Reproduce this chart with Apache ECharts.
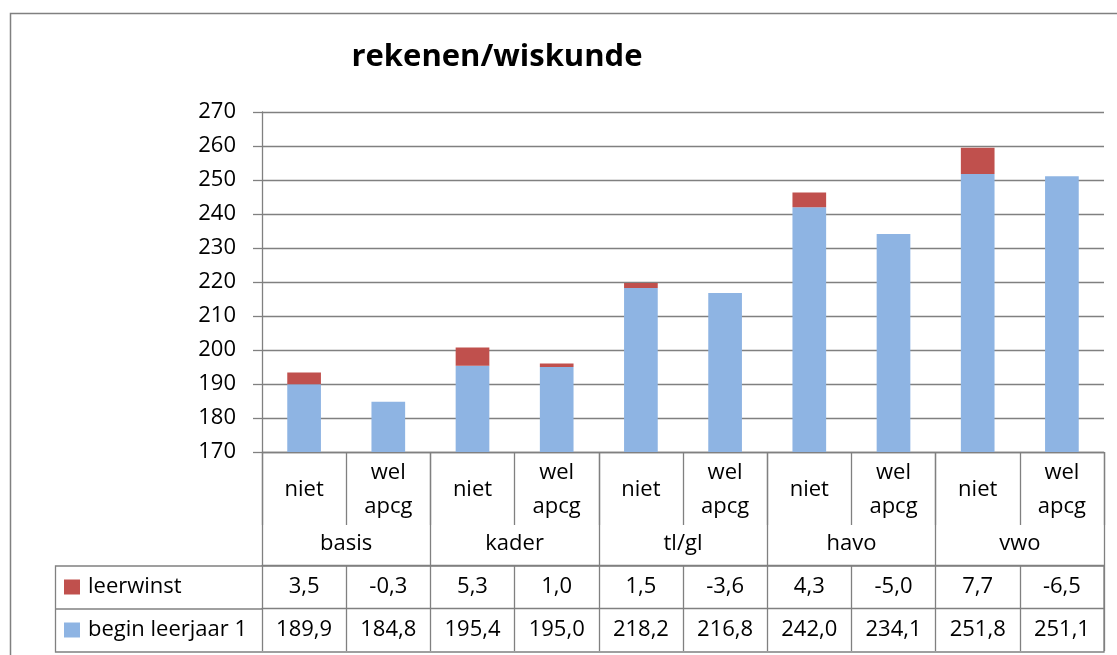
<!DOCTYPE html>
<html>
<head>
<meta charset="utf-8">
<script src="https://cdn.jsdelivr.net/npm/echarts@6/dist/echarts.min.js"></script>
<style>
  html, body { margin: 0; padding: 0; background: #fff; }
  #chart { width: 1117px; height: 655px; }
</style>
</head>
<body>
<div id="chart"></div>
<script>
// data
const categories = ['niet', 'wel\napcg', 'niet', 'wel\napcg', 'niet', 'wel\napcg', 'niet', 'wel\napcg', 'niet', 'wel\napcg']
const groups = ['basis', 'kader', 'tl/gl', 'havo', 'vwo']
const beginLeerjaar = [189.9, 184.8, 195.4, 195.0, 218.2, 216.8, 242.0, 234.1, 251.8, 251.1]
const leerwinst = [3.5, -0.3, 5.3, 1.0, 1.5, -3.6, 4.3, -5.0, 7.7, -6.5]
const yMin = 170
const yMax = 270
const yStep = 10

const fmt = (v) => v.toFixed(1).replace('.', ',')

const FONT = 'Open Sans'
const FS = 22
const GRAY = '#808080'

const chart = echarts.init(document.getElementById('chart'))

const legendStyle = (name, top) => ({
  left: 64,
  top: top,
  itemWidth: 16,
  itemHeight: 15,
  itemGap: 0,
  padding: 0,
  icon: 'rect',
  data: [name],
  textStyle: { fontFamily: FONT, fontSize: FS, color: '#000', padding: [0, 0, 0, 3] }
})

const option = {
  animation: false,
  title: {
    text: 'rekenen/wiskunde',
    left: 492,
    top: 37,
    textAlign: 'center',
    textStyle: { fontFamily: FONT, fontSize: 31, fontWeight: 'bold', color: '#000' }
  },
  legend: [legendStyle('leerwinst', 576), legendStyle('begin leerjaar 1', 619)],
  grid: { left: 262, right: 13, top: 112, bottom: 203 },
  yAxis: {
    type: 'value',
    min: yMin,
    max: yMax,
    interval: yStep,
    axisLine: { show: true, lineStyle: { color: GRAY, width: 1.3 } },
    axisTick: { show: true, length: 9, lineStyle: { color: GRAY, width: 1.3 } },
    splitLine: { show: true, lineStyle: { color: GRAY, width: 1.3 } },
    axisLabel: { margin: 26, fontFamily: FONT, fontSize: FS, color: '#000' }
  },
  xAxis: [
    {
      type: 'category',
      data: categories,
      axisLine: { show: true, lineStyle: { color: GRAY, width: 1.3 } },
      axisTick: { show: true, length: 73, lineStyle: { color: GRAY, width: 1.3 } },
      axisLabel: {
        interval: 0, margin: 38, verticalAlign: 'middle', lineHeight: 34,
        fontFamily: FONT, fontSize: FS, color: '#000'
      }
    },
    {
      type: 'category',
      data: groups,
      position: 'bottom',
      axisLine: { show: false },
      axisTick: { show: true, length: 113, lineStyle: { color: GRAY, width: 1.3 } },
      axisLabel: {
        interval: 0, margin: 92, verticalAlign: 'middle',
        fontFamily: FONT, fontSize: FS, color: '#000'
      }
    },
    {
      type: 'category',
      data: leerwinst.map(fmt),
      position: 'bottom',
      offset: 113,
      axisLine: { show: true, lineStyle: { color: GRAY, width: 1.3 } },
      axisTick: { show: true, length: 43, lineStyle: { color: GRAY, width: 1.3 } },
      axisLabel: {
        interval: 0, margin: 22, verticalAlign: 'middle',
        fontFamily: FONT, fontSize: FS, color: '#000'
      }
    },
    {
      type: 'category',
      data: beginLeerjaar.map(fmt),
      position: 'bottom',
      offset: 156,
      axisLine: { show: true, lineStyle: { color: GRAY, width: 1.3 } },
      axisTick: { show: true, length: 43, lineStyle: { color: GRAY, width: 1.3 } },
      axisLabel: {
        interval: 0, margin: 22, verticalAlign: 'middle',
        fontFamily: FONT, fontSize: FS, color: '#000'
      }
    }
  ],
  series: [
    {
      name: 'begin leerjaar 1',
      type: 'bar',
      stack: 'totaal',
      xAxisIndex: 0,
      data: beginLeerjaar,
      barWidth: '40%',
      itemStyle: { color: '#8EB4E3' }
    },
    {
      name: 'leerwinst',
      type: 'bar',
      stack: 'totaal',
      xAxisIndex: 0,
      data: leerwinst,
      barWidth: '40%',
      itemStyle: { color: '#C0504D' }
    }
  ],
  graphic: [
    // outer chart border
    {
      type: 'rect',
      shape: { x: 10.5, y: 13.5, width: 1130, height: 660 },
      style: { fill: 'none', stroke: GRAY, lineWidth: 1.5 },
      silent: true
    },
    // data table frame (left legend column + bottom line)
    {
      type: 'rect',
      shape: { x: 55.5, y: 566, width: 1048.5, height: 86 },
      style: { fill: 'none', stroke: GRAY, lineWidth: 1.3 },
      silent: true
    },
    {
      type: 'line',
      shape: { x1: 55.5, y1: 609, x2: 262, y2: 609 },
      style: { stroke: GRAY, lineWidth: 1.3 },
      silent: true
    }
  ]
}

chart.setOption(option)
</script>
</body>
</html>
